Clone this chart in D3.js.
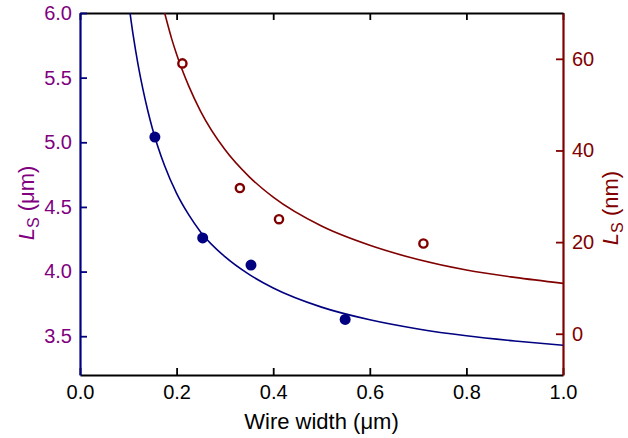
<!DOCTYPE html>
<html>
<head>
<meta charset="utf-8">
<script src="https://cdn.jsdelivr.net/npm/d3@7"></script>
<style>
  body { margin: 0; background: #fff; }
  svg text { font-family: "Liberation Sans", Arial, sans-serif; }
</style>
</head>
<body>
<script>
// Measured points (wire width in um)
var blueX = [0.155, 0.254, 0.354, 0.549];
var blueY = [5.04, 4.26, 4.05, 3.63];          // Ls (um), left axis
var redX = [0.212, 0.331, 0.412, 0.711];
var redY = [59.0, 31.8, 25.0, 19.7];           // Ls (nm), right axis

// Fit curves
var blueFitX = [0.100, 0.11, 0.12, 0.13, 0.14, 0.15, 0.175, 0.20, 0.225, 0.25, 0.30, 0.35, 0.40, 0.50, 0.60, 0.70, 0.80, 0.90, 1.00];
var blueFitY = [6.10, 5.83, 5.605, 5.415, 5.25, 5.105, 4.82, 4.605, 4.44, 4.305, 4.115, 3.978, 3.873, 3.725, 3.627, 3.556, 3.503, 3.463, 3.43];
var redFitX = [0.165, 0.175, 0.19, 0.20, 0.225, 0.25, 0.30, 0.35, 0.40, 0.50, 0.60, 0.70, 0.80, 0.90, 1.00];
var redFitY = [74.2, 70.1, 64.3, 61.0, 54.1, 48.5, 40.2, 34.3, 29.8, 23.5, 19.3, 16.2, 13.9, 12.3, 11.0];

// Axis ticks
var xMajor = [0, 0.2, 0.4, 0.6, 0.8, 1.0];
var leftMajor = [3.5, 4.0, 4.5, 5.0, 5.5, 6.0];
var rightMajor = [0, 20, 40, 60];

var navy = "#000080", maroon = "#800000", purple = "#800080";

var W = 628, H = 438;
var svg = d3.select("body").append("svg")
    .attr("width", W)
    .attr("height", H);

var x = d3.scaleLinear().domain([0, 1]).range([80, 563]);
var yL = d3.scaleLinear().domain([3.2, 6.0]).range([375, 13]);
var yR = d3.scaleLinear().domain([-9, 70]).range([375, 13]);

var xMinorBottom = d3.range(0, 21).map(function(i) { return i * 0.05; });
var xMinorTop = d3.range(0, 11).map(function(i) { return i / 10; });
var leftMinor = d3.range(33, 61).map(function(i) { return i / 10; });
var rightMinor = [10, 30, 50, 70];

// clip for curves
svg.append("clipPath").attr("id", "plot")
  .append("rect")
    .attr("x", 80).attr("y", 13)
    .attr("width", 483).attr("height", 362);

function styleAxis(g, color) {
  g.selectAll("path.domain").attr("stroke", color).attr("stroke-width", 2.2);
  g.selectAll(".tick line").attr("stroke", color).attr("stroke-width", 1.8);
}

// bottom axis
var gb = svg.append("g").attr("transform", "translate(0,375)");
gb.call(d3.axisBottom(x).tickValues(xMinorBottom).tickSize(-4).tickSizeOuter(0).tickFormat(""));
gb.call(d3.axisBottom(x).tickValues(xMajor).tickSize(-7).tickSizeOuter(0).tickFormat(d3.format(".1f")));
styleAxis(gb, "#000");
gb.selectAll("text").attr("y", 10).attr("dy", "0.71em")
    .attr("font-size", 20).attr("fill", "#000");

// top axis
var gt = svg.append("g").attr("transform", "translate(0,13)");
gt.call(d3.axisTop(x).tickValues(xMinorTop).tickSize(-4).tickSizeOuter(0).tickFormat(""));
gt.call(d3.axisTop(x).tickValues(xMajor).tickSize(-7).tickSizeOuter(0).tickFormat(""));
styleAxis(gt, "#000");

// right axis
var gr = svg.append("g").attr("transform", "translate(563,0)");
gr.call(d3.axisRight(yR).tickValues(rightMinor).tickSize(-4).tickSizeOuter(0).tickFormat(""));
gr.call(d3.axisRight(yR).tickValues(rightMajor).tickSize(-7).tickSizeOuter(0).tickFormat(d3.format("d")));
styleAxis(gr, maroon);
gr.selectAll("text").attr("x", 9).attr("font-size", 20).attr("fill", maroon);

// left axis
var gl = svg.append("g").attr("transform", "translate(80,0)");
gl.call(d3.axisLeft(yL).tickValues(leftMinor).tickSize(-4).tickSizeOuter(0).tickFormat(""));
gl.call(d3.axisLeft(yL).tickValues(leftMajor).tickSize(-7).tickSizeOuter(0).tickFormat(d3.format(".1f")));
styleAxis(gl, navy);
gl.selectAll("text").attr("x", -8).attr("font-size", 20).attr("fill", purple);

// fit curves
var blueLine = d3.line()
    .x(function(d) { return x(d[0]); })
    .y(function(d) { return yL(d[1]); })
    .curve(d3.curveMonotoneX);
var redLine = d3.line()
    .x(function(d) { return x(d[0]); })
    .y(function(d) { return yR(d[1]); })
    .curve(d3.curveMonotoneX);

svg.append("path")
    .datum(d3.zip(blueFitX, blueFitY))
    .attr("clip-path", "url(#plot)")
    .attr("fill", "none")
    .attr("stroke", navy)
    .attr("stroke-width", 1.6)
    .attr("d", blueLine);

svg.append("path")
    .datum(d3.zip(redFitX, redFitY))
    .attr("clip-path", "url(#plot)")
    .attr("fill", "none")
    .attr("stroke", maroon)
    .attr("stroke-width", 1.6)
    .attr("d", redLine);

// points
svg.selectAll("circle.blue")
    .data(d3.zip(blueX, blueY))
    .enter().append("circle")
    .attr("class", "blue")
    .attr("cx", function(d) { return x(d[0]); })
    .attr("cy", function(d) { return yL(d[1]); })
    .attr("r", 5.5)
    .attr("fill", navy);

svg.selectAll("circle.red")
    .data(d3.zip(redX, redY))
    .enter().append("circle")
    .attr("class", "red")
    .attr("cx", function(d) { return x(d[0]); })
    .attr("cy", function(d) { return yR(d[1]); })
    .attr("r", 4.1)
    .attr("fill", "#fff")
    .attr("stroke", maroon)
    .attr("stroke-width", 2.4);

// axis titles
svg.append("text")
    .attr("x", 321.5)
    .attr("y", 429)
    .attr("text-anchor", "middle")
    .attr("font-size", 22)
    .attr("fill", "#000")
    .text("Wire width (\u03bcm)");

function yTitle(cx, cy, color, unit) {
  var t = svg.append("text")
      .attr("transform", "translate(" + cx + "," + cy + ") rotate(-90)")
      .attr("text-anchor", "middle")
      .attr("font-size", 22)
      .attr("fill", color);
  t.append("tspan").attr("font-style", "italic").text("L");
  t.append("tspan").attr("font-size", 16).attr("dy", 5).text("S");
  t.append("tspan").attr("dy", -5).text(" (" + unit + ")");
}
yTitle(34, 203, purple, "\u03bcm");
yTitle(618, 208, maroon, "nm");
</script>
</body>
</html>
